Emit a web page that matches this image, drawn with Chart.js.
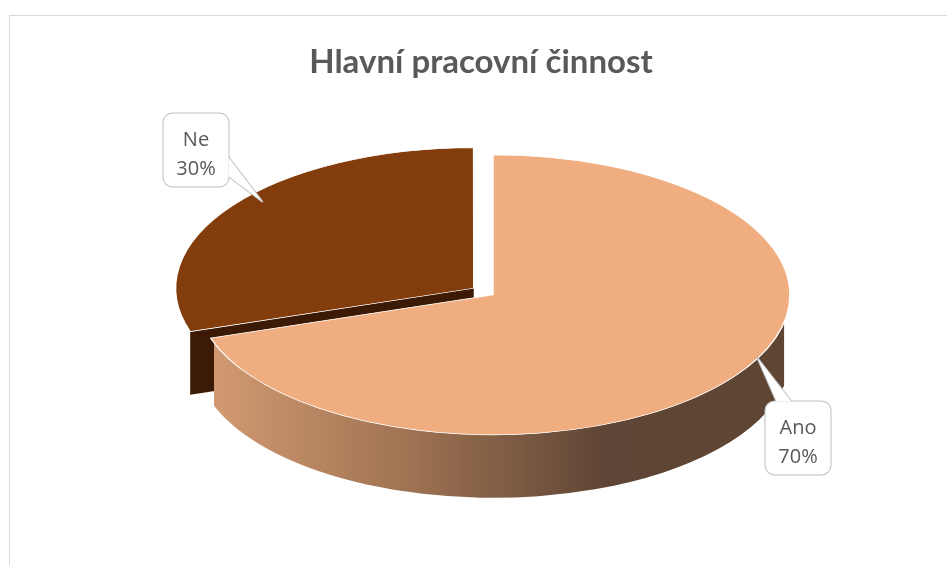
<!DOCTYPE html>
<html>
<head>
<meta charset="utf-8">
<script src="https://cdn.jsdelivr.net/npm/chart.js@4.4.1/dist/chart.umd.min.js"></script>
<style>
  html, body { margin: 0; padding: 0; background: #fff; overflow: hidden; }
</style>
</head>
<body>
<canvas id="chart" width="947" height="565"></canvas>
<script>
// data
const categories = ["Ano", "Ne"];
const shares = [70, 30];

// style
const topColors = ["#F0AD80", "#833C0C"];
const darkSide = "#3D1A05";
const explode = [0, 64];
const SX = 1.485, SY = 0.70, DEPTH = 63; // tilt of the "3d" pie
const VIEW_DX = 12; // pie sits a bit right of the title
// callout boxes (centre) and where the leader points on the rim
const labelLayout = [
  { x: 798, y: 438, tipAngle: 27, tipR: 1.0 },
  { x: 196, y: 150, tipAngle: 221, tipR: 0.94 }
];

// part of [a0,a1] whose outer wall faces the viewer
function frontRanges(a0, a1) {
  const out = [];
  for (let k = -1; k <= 1; k++) {
    const s = Math.max(a0, k * 2 * Math.PI + 0.2);
    const e = Math.min(a1, k * 2 * Math.PI + Math.PI - 0.35);
    if (e > s) out.push([s, e]);
  }
  return out;
}

function sliceGeom(el) {
  const off = (el.options.offset || 0) / 4;
  const mid = (el.startAngle + el.endAngle) / 2;
  const fix = 1 - Math.sin(Math.min(Math.PI, el.endAngle - el.startAngle));
  return {
    x: el.x + Math.cos(mid) * off,
    y: el.y + Math.sin(mid) * off,
    r: el.outerRadius + off * fix,
    s: el.startAngle,
    e: el.endAngle
  };
}

const frame = {
  id: "frame",
  beforeDraw(chart) {
    const ctx = chart.ctx;
    ctx.save();
    ctx.strokeStyle = "#d9d9d9";
    ctx.lineWidth = 1;
    ctx.strokeRect(9.5, 15.5, 1200, 800);
    ctx.restore();
  }
};

const pie3d = {
  id: "pie3d",
  beforeDatasetsDraw(chart) {
    const ctx = chart.ctx;
    const arcs = chart.getDatasetMeta(0).data;
    const cx = arcs[0].x, cy = arcs[0].y;
    ctx.save();
    ctx.translate(cx + VIEW_DX, cy);
    ctx.scale(SX, SY);
    ctx.translate(-cx, -cy);
    const d = DEPTH / SY;

    // cut faces that turn towards the viewer
    arcs.forEach((el) => {
      const g = sliceGeom(el);
      [[g.s, -1], [g.e, 1]].forEach(([a, side]) => {
        const visible = side < 0 ? Math.cos(a) < -0.01 : Math.cos(a) > 0.01;
        if (!visible) return;
        const ex = g.x + Math.cos(a) * g.r, ey = g.y + Math.sin(a) * g.r;
        ctx.beginPath();
        ctx.moveTo(g.x, g.y);
        ctx.lineTo(ex, ey);
        ctx.lineTo(ex, ey + d);
        ctx.lineTo(g.x, g.y + d);
        ctx.closePath();
        ctx.fillStyle = darkSide;
        ctx.fill();
      });
    });

    // outer walls
    arcs.forEach((el, i) => {
      const g = sliceGeom(el);
      let fill = darkSide;
      if (i === 0) {
        fill = ctx.createLinearGradient(g.x - g.r, 0, g.x + g.r * 0.62, 0);
        fill.addColorStop(0, "#D69D74");
        fill.addColorStop(0.45, "#9E7252");
        fill.addColorStop(0.85, "#5F4535");
        fill.addColorStop(1, "#5E4534");
      }
      frontRanges(g.s, g.e).forEach(([s, e]) => {
        ctx.beginPath();
        ctx.arc(g.x, g.y, g.r, s, e);
        ctx.lineTo(g.x + Math.cos(e) * g.r, g.y + Math.sin(e) * g.r + d);
        ctx.arc(g.x, g.y + d, g.r, e, s, true);
        ctx.closePath();
        ctx.fillStyle = fill;
        ctx.fill();
      });
    });
  },
  afterDatasetsDraw(chart) {
    chart.ctx.restore();
  }
};

const callouts = {
  id: "callouts",
  afterDraw(chart) {
    const ctx = chart.ctx;
    const arcs = chart.getDatasetMeta(0).data;
    const total = shares.reduce((a, b) => a + b, 0);
    arcs.forEach((el, i) => {
      const lay = labelLayout[i];
      const g = sliceGeom(el);
      const a = lay.tipAngle * Math.PI / 180;
      const lx = g.x + Math.cos(a) * g.r * lay.tipR;
      const ly = g.y + Math.sin(a) * g.r * lay.tipR;
      const tx = el.x + VIEW_DX + (lx - el.x) * SX;
      const ty = el.y + (ly - el.y) * SY;

      const w = 65, h = 73, rad = 9;
      const bx = lay.x - w / 2, by = lay.y - h / 2;
      let b1, b2;
      const dx = tx - lay.x, dy = ty - lay.y;
      if (Math.abs(dx) / w > Math.abs(dy) / h) {
        const ex = dx > 0 ? bx + w : bx;
        const sg = dy > 0 ? 1 : -1;
        b1 = [ex, lay.y + sg * h * 0.1];
        b2 = [ex, lay.y + sg * h * 0.36];
      } else {
        const ey = dy > 0 ? by + h : by;
        const sg = dx > 0 ? 1 : -1;
        b1 = [lay.x + sg * w * 0.1, ey];
        b2 = [lay.x + sg * w * 0.33, ey];
      }
      const box = () => {
        ctx.beginPath();
        ctx.roundRect(bx, by, w, h, rad);
      };
      const tail = () => {
        ctx.beginPath();
        ctx.moveTo(b1[0], b1[1]);
        ctx.lineTo(tx, ty);
        ctx.lineTo(b2[0], b2[1]);
        ctx.closePath();
      };
      ctx.save();
      ctx.strokeStyle = "#BFBFBF";
      ctx.lineWidth = 2;
      ctx.lineJoin = "round";
      box(); ctx.stroke();
      tail(); ctx.stroke();
      ctx.fillStyle = "#fff";
      box(); ctx.fill();
      tail(); ctx.fill();

      ctx.fillStyle = "#595959";
      ctx.font = '20px "Open Sans"';
      ctx.textAlign = "center";
      ctx.textBaseline = "alphabetic";
      ctx.fillText(categories[i], lay.x, lay.y - 4.5);
      ctx.fillText(Math.round(shares[i] / total * 100) + "%", lay.x, lay.y + 25);
      ctx.restore();
    });
  }
};

new Chart(document.getElementById("chart"), {
  type: "pie",
  data: {
    labels: categories,
    datasets: [{
      data: shares,
      backgroundColor: topColors,
      borderColor: "#ffffff",
      borderWidth: 1,
      offset: explode
    }]
  },
  options: {
    responsive: false,
    animation: false,
    radius: 200,
    layout: { padding: { left: 15, right: 0, top: 0, bottom: 58 } },
    plugins: {
      legend: { display: false },
      tooltip: { enabled: false },
      title: {
        display: true,
        text: "Hlavní pracovní činnost",
        color: "#595959",
        font: { family: "Lato", size: 33, weight: "bold" },
        padding: { top: 43, bottom: 0 }
      }
    }
  },
  plugins: [frame, pie3d, callouts]
});
</script>
</body>
</html>
